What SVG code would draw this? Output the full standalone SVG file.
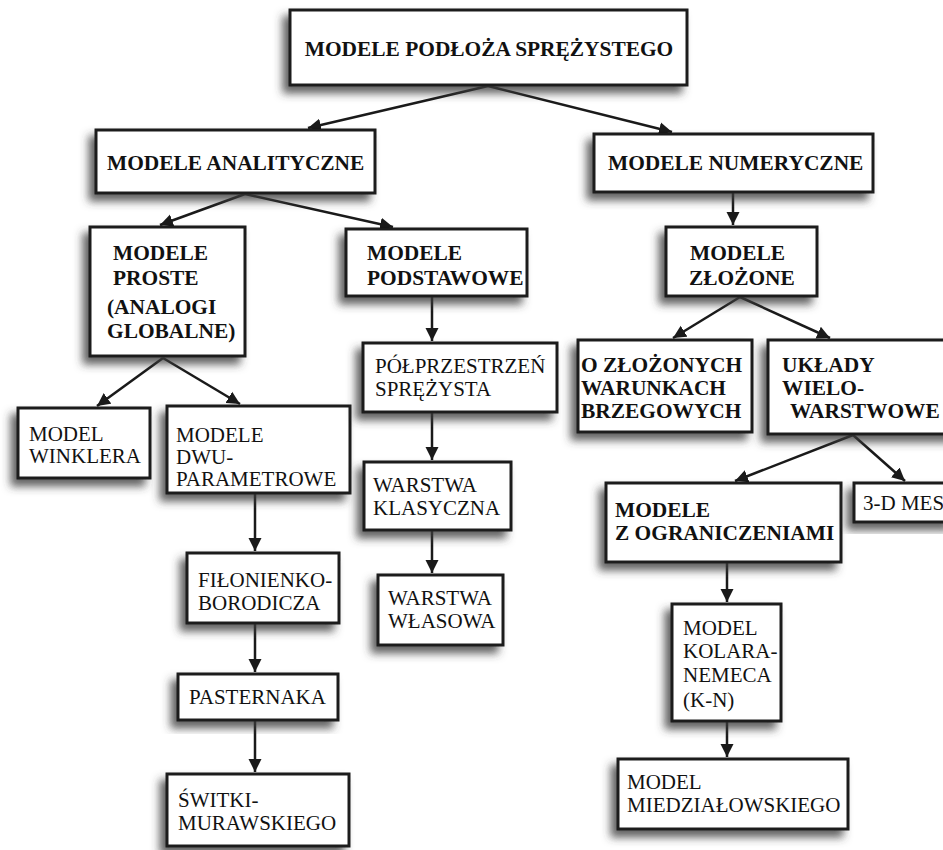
<svg xmlns="http://www.w3.org/2000/svg" width="943" height="850" viewBox="0 0 943 850">
  <style>
    .box { fill: #ffffff; stroke: #1c1c1c; stroke-width: 3; filter: url(#shadow); }
    .b { font-family: "Liberation Serif", "Times New Roman", serif; font-weight: bold; font-size: 21.4px; fill: #111111; }
    .r { font-family: "Liberation Serif", "Times New Roman", serif; font-size: 21px; fill: #111111; }
    .link { fill: none; stroke: #1a1a1a; stroke-width: 2.5; marker-end: url(#arrow); }
  </style>
  <defs>
    <filter id="shadow" x="-20%" y="-20%" width="140%" height="150%">
      <feDropShadow dx="-6" dy="7" stdDeviation="4" flood-color="#3a3a3a" flood-opacity="0.8"/>
    </filter>
    <marker id="arrow" markerUnits="userSpaceOnUse" markerWidth="14" markerHeight="14" refX="13" refY="7" orient="auto">
      <path d="M0,0.5 L13,7 L0,13.5 z" fill="#1a1a1a"/>
    </marker>
  </defs>

  <rect width="943" height="850" fill="#ffffff"/>

  <!-- connectors -->
  <g id="connectors">
    <line class="link" x1="488" y1="86" x2="308" y2="128"/>
    <line class="link" x1="488" y1="86" x2="672" y2="132"/>
    <line class="link" x1="245" y1="194" x2="160" y2="225"/>
    <line class="link" x1="245" y1="194" x2="393" y2="227"/>
    <line class="link" x1="733" y1="193" x2="733" y2="225"/>
    <line class="link" x1="740" y1="297" x2="673" y2="338"/>
    <line class="link" x1="740" y1="297" x2="830" y2="338"/>
    <line class="link" x1="163" y1="358" x2="97" y2="406"/>
    <line class="link" x1="163" y1="358" x2="240" y2="404"/>
    <line class="link" x1="255" y1="494" x2="255" y2="551"/>
    <line class="link" x1="255" y1="624" x2="255" y2="672"/>
    <line class="link" x1="255" y1="721" x2="255" y2="772"/>
    <line class="link" x1="432" y1="297" x2="432" y2="341"/>
    <line class="link" x1="432" y1="413" x2="432" y2="460"/>
    <line class="link" x1="432" y1="531" x2="432" y2="573"/>
    <line class="link" x1="853" y1="435" x2="735" y2="481"/>
    <line class="link" x1="853" y1="435" x2="905" y2="481"/>
    <line class="link" x1="727" y1="563" x2="727" y2="602"/>
    <line class="link" x1="727" y1="722" x2="727" y2="757"/>
  </g>

  <!-- root -->
  <g id="root">
    <rect class="box" x="290" y="10" width="397" height="75"/>
    <text class="b" x="489" y="56" text-anchor="middle">MODELE PODŁOŻA SPRĘŻYSTEGO</text>
  </g>

  <!-- analytical branch -->
  <g id="analityczne">
    <rect class="box" x="96" y="130" width="279" height="63"/>
    <text class="b" x="107" y="170">MODELE ANALITYCZNE</text>
  </g>
  <g id="proste">
    <rect class="box" x="90" y="227" width="155" height="129"/>
    <text class="b" x="113" y="260">MODELE</text>
    <text class="b" x="113" y="285">PROSTE</text>
    <text class="b" x="107" y="314">(ANALOGI</text>
    <text class="b" x="107" y="338">GLOBALNE)</text>
  </g>
  <g id="podstawowe">
    <rect class="box" x="346" y="229" width="181" height="67"/>
    <text class="b" x="367" y="260">MODELE</text>
    <text class="b" x="367" y="285">PODSTAWOWE</text>
  </g>
  <g id="winklera">
    <rect class="box" x="18" y="408" width="132" height="70"/>
    <text class="r" x="29" y="441">MODEL</text>
    <text class="r" x="29" y="463">WINKLERA</text>
  </g>
  <g id="dwuparametrowe">
    <rect class="box" x="167" y="406" width="183" height="87"/>
    <text class="r" x="176" y="442">MODELE</text>
    <text class="r" x="176" y="464">DWU-</text>
    <text class="r" x="176" y="486">PARAMETROWE</text>
  </g>
  <g id="filonienko">
    <rect class="box" x="187" y="553" width="152" height="70"/>
    <text class="r" x="198" y="587">FIŁONIENKO-</text>
    <text class="r" x="198" y="610">BORODICZA</text>
  </g>
  <g id="pasternaka">
    <rect class="box" x="178" y="674" width="160" height="46"/>
    <text class="r" x="189" y="704">PASTERNAKA</text>
  </g>
  <g id="switki">
    <rect class="box" x="167" y="774" width="182" height="72"/>
    <text class="r" x="178" y="807">ŚWITKI-</text>
    <text class="r" x="178" y="830">MURAWSKIEGO</text>
  </g>
  <g id="polprzestrzen">
    <rect class="box" x="363" y="343" width="194" height="69"/>
    <text class="r" x="375" y="373">PÓŁPRZESTRZEŃ</text>
    <text class="r" x="375" y="396">SPRĘŻYSTA</text>
  </g>
  <g id="klasyczna">
    <rect class="box" x="364" y="462" width="147" height="68"/>
    <text class="r" x="373" y="492">WARSTWA</text>
    <text class="r" x="373" y="515">KLASYCZNA</text>
  </g>
  <g id="wlasowa">
    <rect class="box" x="378" y="575" width="125" height="70"/>
    <text class="r" x="388" y="605">WARSTWA</text>
    <text class="r" x="388" y="628">WŁASOWA</text>
  </g>

  <!-- numerical branch -->
  <g id="numeryczne">
    <rect class="box" x="594" y="134" width="279" height="58"/>
    <text class="b" x="608" y="170">MODELE NUMERYCZNE</text>
  </g>
  <g id="zlozone">
    <rect class="box" x="666" y="227" width="151" height="69"/>
    <text class="b" x="690" y="260">MODELE</text>
    <text class="b" x="689" y="285">ZŁOŻONE</text>
  </g>
  <g id="warunki">
    <rect class="box" x="578" y="340" width="174" height="92"/>
    <text class="b" x="581" y="372">O ZŁOŻONYCH</text>
    <text class="b" x="581" y="395">WARUNKACH</text>
    <text class="b" x="581" y="418">BRZEGOWYCH</text>
  </g>
  <g id="uklady">
    <rect class="box" x="768" y="340" width="190" height="94"/>
    <text class="b" x="782" y="372">UKŁADY</text>
    <text class="b" x="782" y="395">WIELO-</text>
    <text class="b" x="790" y="418">WARSTWOWE</text>
  </g>
  <g id="ograniczenia">
    <rect class="box" x="606" y="483" width="235" height="79"/>
    <text class="b" x="615" y="517">MODELE</text>
    <text class="b" x="615" y="540">Z OGRANICZENIAMI</text>
  </g>
  <g id="mes3d">
    <rect class="box" x="854" y="483" width="100" height="39"/>
    <text class="r" x="863" y="510">3-D MES</text>
  </g>
  <g id="kolara">
    <rect class="box" x="672" y="604" width="109" height="117"/>
    <text class="r" x="683" y="635">MODEL</text>
    <text class="r" x="683" y="658">KOLARA-</text>
    <text class="r" x="683" y="682">NEMECA</text>
    <text class="r" x="683" y="707">(K-N)</text>
  </g>
  <g id="miedzialowskiego">
    <rect class="box" x="618" y="759" width="230" height="70"/>
    <text class="r" x="627" y="789">MODEL</text>
    <text class="r" x="627" y="812">MIEDZIAŁOWSKIEGO</text>
  </g>
</svg>
